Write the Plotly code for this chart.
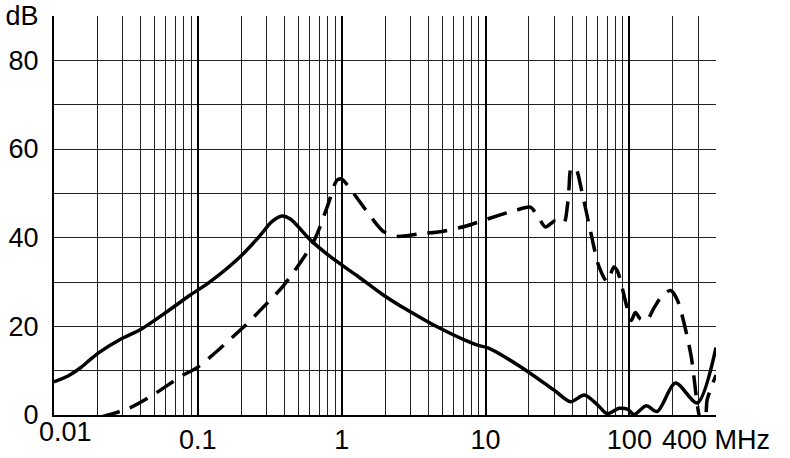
import numpy as np
import plotly.graph_objects as go

# Solid curve (MHz, dB)
solid_f = [0.01, 0.0125, 0.0152, 0.018, 0.021, 0.029, 0.04, 0.061, 0.088, 0.122,
           0.197, 0.271, 0.327, 0.384, 0.44, 0.605, 0.834, 1.28, 1.9, 2.56, 3.0,
           4.6, 8.7, 10.5, 17.5, 30, 39, 48.5, 60, 70, 85, 97, 108, 131, 156,
           209, 296, 400]
solid_db = [7.5, 8.8, 10.6, 12.6, 14.3, 17.1, 19.3, 23.3, 27.0, 30.1,
            35.7, 40.5, 43.6, 44.9, 44.2, 39.5, 35.7, 31.4, 27.3, 24.6, 23.3,
            19.9, 15.8, 15.1, 10.9, 5.6, 3.0, 4.5, 2.3, 0.3, 1.5, 1.3, 0.1, 2.1, 0.8,
            7.2, 2.7, 15.2]

# Dashed curve (MHz, dB)
dash_f = [0.021, 0.033, 0.048, 0.079, 0.1, 0.207, 0.271, 0.394, 0.637, 0.794,
          0.93, 1.0, 1.117, 1.62, 1.95, 2.43, 3.52, 5.0, 7.45, 10.3, 16.6, 20.5,
          22.8, 26.1, 28.5, 30.6, 35.0, 37.0, 38.0, 39.4, 42.2, 47.0, 53.7, 61.4,
          70, 78, 82.4, 96.6, 103, 110, 119.6, 131.8, 148, 170, 193.6, 215, 266.6,
          293.6, 305, 320, 340, 347, 400]
dash_db = [-0.5, 1.5, 4.4, 9.0, 10.8, 19.8, 23.6, 29.2, 39.1, 47.0,
           53.0, 53.2, 51.5, 44.4, 41.4, 40.3, 40.9, 41.4, 42.7, 44.2, 46.3, 46.9,
           45.1, 42.4, 43.2, 43.9, 43.3, 47.0, 51.0, 55.7, 55.7, 50.0, 41.4, 33.5,
           30.1, 33.4, 32.5, 24.1, 21.3, 23.1, 21.6, 21.3, 24.1, 27.0, 28.1, 26.0, 13.9,
           3.4, 0.0, -2.0, 0.2, 3.4, 9.0]

x_tick_vals = [0.01, 0.1, 1, 10, 100, 400]
x_tick_text = ["", "0.1", "1", "10", "100", "400 MHz"]
y_tick_vals = [0, 10, 20, 30, 40, 50, 60, 70, 80, 90]
y_tick_text = ["0", "", "20", "", "40", "", "60", "", "80", "dB"]
decades = [0.01, 0.1, 1, 10, 100]
minor_vals = [m * d for d in [0.01, 0.1, 1, 10, 100] for m in range(1, 10) if m * d <= 400]

FONT = "Arial, Liberation Sans, sans-serif"
FS = 27

fig = go.Figure()
fig.add_trace(go.Scatter(x=solid_f, y=solid_db, mode="lines",
                         line=dict(color="black", width=3.5, shape="spline", smoothing=0.8),
                         showlegend=False, hoverinfo="skip"))
fig.add_trace(go.Scatter(x=dash_f, y=dash_db, mode="lines",
                         line=dict(color="black", width=3.5, shape="spline", smoothing=0.8,
                                   dash="20px,11px"),
                         showlegend=False, hoverinfo="skip"))
# invisible trace on overlay axis for decade gridlines
fig.add_trace(go.Scatter(x=[0.01, 400], y=[0, 90], xaxis="x2", mode="markers",
                         marker=dict(opacity=0), showlegend=False, hoverinfo="skip"))

xr = [np.log10(0.01), np.log10(400)]
fig.update_layout(
    width=790, height=458,
    margin=dict(l=54, r=74, t=16, b=43, autoexpand=False),
    paper_bgcolor="white", plot_bgcolor="white",
    font=dict(family=FONT, size=FS, color="black"),
    xaxis=dict(type="log", range=xr, tickmode="array", tickvals=minor_vals,
               ticktext=[x_tick_text[x_tick_vals.index(v)] if v in x_tick_vals else "" for v in minor_vals],
               showgrid=True, gridcolor="#222", gridwidth=1.3, zeroline=False,
               showline=True, linecolor="black", linewidth=2, ticks="",
               ticklabelstandoff=0, tickfont=dict(size=FS), automargin=False),
    xaxis2=dict(type="log", range=xr, overlaying="x", tickmode="array",
                tickvals=decades, showticklabels=False, showgrid=True,
                gridcolor="black", gridwidth=2.2, zeroline=False, showline=False,
                automargin=False),
    yaxis=dict(range=[0, 90], tickmode="array", tickvals=y_tick_vals, ticktext=y_tick_text,
               showgrid=True, gridcolor="#222", gridwidth=1.3, zeroline=False,
               showline=True, linecolor="black", linewidth=2, ticks="",
               ticklabelstandoff=8, tickfont=dict(size=FS), automargin=False),
)
fig.add_annotation(x=np.log10(0.01), y=0, xref="x", yref="y", text="0.01",
                   showarrow=False, xanchor="center", yanchor="top",
                   xshift=11, yshift=0, font=dict(family=FONT, size=FS, color="black"))
fig.write_html("out.html", config={"displayModeBar": False},
               post_script="document.body.style.margin='0px';document.body.style.overflow='hidden';")
